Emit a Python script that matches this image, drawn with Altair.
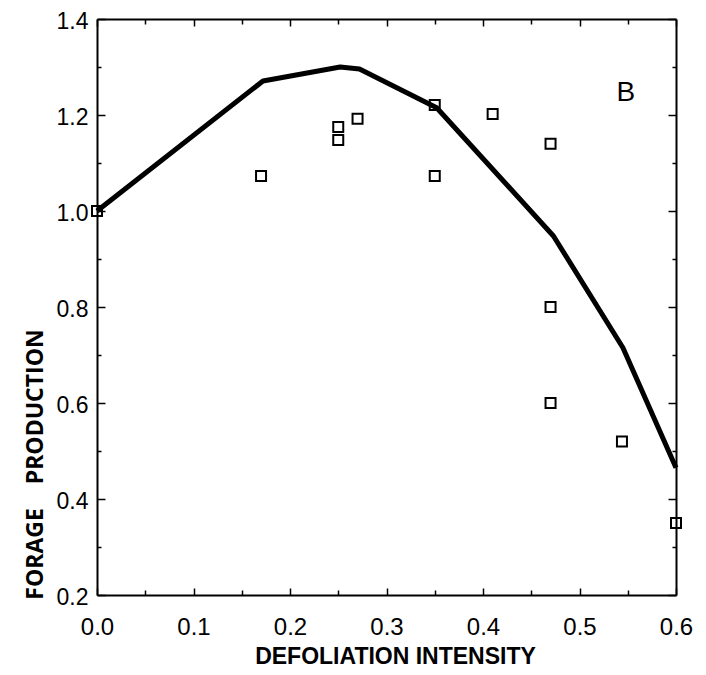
import altair as alt
import pandas as pd

# observed points (squares)
pt_x = [0.00, 0.17, 0.25, 0.25, 0.27, 0.35, 0.35, 0.41, 0.47, 0.47, 0.47, 0.544, 0.60]
pt_y = [1.00, 1.073, 1.175, 1.148, 1.192, 1.221, 1.073, 1.202, 1.140, 0.80, 0.60, 0.52, 0.35]

# model curve
ln_x = [0.00, 0.172, 0.252, 0.272, 0.352, 0.473, 0.545, 0.60]
ln_y = [1.00, 1.271, 1.300, 1.296, 1.215, 0.948, 0.715, 0.465]

# "B" marker
b_x = [0.548]
b_y = [1.246]
b_label = ["B"]

x_major = [0.0, 0.1, 0.2, 0.3, 0.4, 0.5, 0.6]
x_minor = [0.05, 0.15, 0.25, 0.35, 0.45, 0.55]
y_major = [0.2, 0.4, 0.6, 0.8, 1.0, 1.2, 1.4]
y_minor = [0.3, 0.5, 0.7, 0.9, 1.1, 1.3]

W, H = 579, 576
LBL_FONT = "Liberation Sans Narrow, Arial Narrow, Liberation Sans, Arial"

pts = pd.DataFrame({"x": pt_x, "y": pt_y})
line = pd.DataFrame({"x": ln_x, "y": ln_y, "o": list(range(len(ln_x)))})
bdf = pd.DataFrame({"x": b_x, "y": b_y, "t": b_label})

xs = alt.Scale(domain=[0, 0.6], nice=False, zero=False)
ys = alt.Scale(domain=[0.2, 1.4], nice=False, zero=False)

main_x_axis = alt.Axis(values=x_major, format=".1f", ticks=False, grid=False,
                       domain=True, labelFont=LBL_FONT, labelFontSize=24,
                       labelPadding=20, title="DEFOLIATION INTENSITY",
                       titleFont=LBL_FONT, titleFontSize=23, titleFontWeight="bold",
                       titlePadding=6, titleX=298, titleAlign="center",
                       labelFlush=False)
main_y_axis = alt.Axis(values=y_major, format=".1f", ticks=False, grid=False,
                       domain=True, labelFont=LBL_FONT, labelFontSize=23,
                       labelPadding=9, labelOffset=2,
                       title="FORAGE\u00a0\u00a0\u00a0\u00a0PRODUCTION",
                       titleFont="Open Sans", titleFontSize=23, titleFontWeight="bold",
                       titleAngle=-90, titleX=-62, titleY=445, titleAlign="center",
                       titleBaseline="middle", labelFlush=False)

points = alt.Chart(pts).mark_point(shape="square", filled=False, color="black",
                                   size=100, strokeWidth=2, opacity=1).encode(
    x=alt.X("x:Q", scale=xs, axis=main_x_axis),
    y=alt.Y("y:Q", scale=ys, axis=main_y_axis),
)

curve = alt.Chart(line).mark_line(color="black", strokeWidth=5, strokeJoin="round").encode(
    x=alt.X("x:Q", scale=xs, axis=None),
    y=alt.Y("y:Q", scale=ys, axis=None),
    order="o:Q",
)

btxt = alt.Chart(bdf).mark_text(font=LBL_FONT, fontSize=28, color="black",
                                align="center", baseline="middle").encode(
    x=alt.X("x:Q", scale=xs, axis=None),
    y=alt.Y("y:Q", scale=ys, axis=None),
    text="t:N",
)


def tick_axis(orient, values, size, offset, domain=False):
    return alt.Axis(orient=orient, values=values, tickSize=size, offset=offset,
                    labels=False, grid=False, domain=domain, title=None,
                    tickColor="black", tickWidth=1.5, domainColor="black",
                    domainWidth=2)


def tick_layer(xaxis, yaxis):
    return alt.Chart(line).mark_point(opacity=0).encode(
        x=alt.X("x:Q", scale=xs, axis=xaxis),
        y=alt.Y("y:Q", scale=ys, axis=yaxis),
    )


ticks = [
    # bottom edge inward / left edge inward
    tick_layer(tick_axis("top", x_major, 7, -H), tick_axis("right", y_major, 8, -W)),
    tick_layer(tick_axis("top", x_minor, 5, -H), tick_axis("right", y_minor, 4, -W)),
    # top edge inward / right edge inward (with frame lines)
    tick_layer(tick_axis("bottom", x_major, 7, -H, domain=True),
               tick_axis("left", y_major, 8, -W, domain=True)),
    tick_layer(tick_axis("bottom", x_minor, 5, -H), tick_axis("left", y_minor, 4, -W)),
]

chart = alt.layer(points, curve, btxt, *ticks).resolve_axis(
    x="independent", y="independent"
).properties(
    width=W, height=H,
    autosize=alt.AutoSizeParams(type="none"),
    padding={"left": 89, "top": 11, "right": 22, "bottom": 72},
    background="white",
).configure_view(stroke=None).configure_axis(
    domainColor="black", domainWidth=2, labelColor="black", titleColor="black",
)

chart.save("out.html", embed_options={"renderer": "svg", "actions": False})
